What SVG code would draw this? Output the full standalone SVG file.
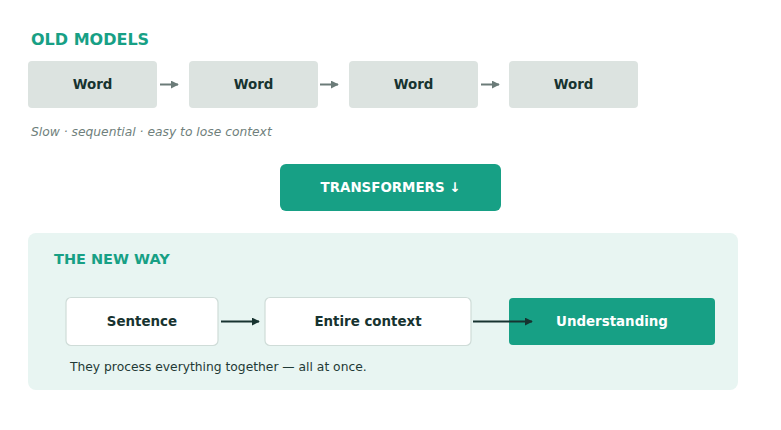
<svg xmlns="http://www.w3.org/2000/svg" width="781" height="430" viewBox="0 0 781 430">
<style>
text{font-family:"DejaVu Sans","Noto Sans",sans-serif}
.h{font-weight:bold;fill:#17a085}
.w{fill:#dce3e0}
.wt{font-weight:bold;font-size:13.4px;fill:#173330;text-anchor:middle;dominant-baseline:central}
.wb{fill:#ffffff;stroke:#cfdcd8;stroke-width:1.2}
.tb{fill:#17a085}
.tt{font-weight:bold;font-size:13.4px;fill:#ffffff;text-anchor:middle;dominant-baseline:central}
.ag{stroke:#6b7b78;stroke-width:2;fill:none}
.ad{stroke:#173330;stroke-width:2;fill:none}
</style>
<defs>
<marker id="mg" viewBox="0 0 10 10" refX="9" refY="5" markerWidth="4" markerHeight="4" orient="auto"><path d="M0,0 L10,5 L0,10 z" fill="#6b7b78"/></marker>
<marker id="md" viewBox="0 0 10 10" refX="9" refY="5" markerWidth="4" markerHeight="4" orient="auto"><path d="M0,0 L10,5 L0,10 z" fill="#173330"/></marker>
</defs>
<rect width="781" height="430" fill="#ffffff"/>
<text class="h" x="31" y="45" font-size="16">OLD MODELS</text>
<g id="word1"><rect class="w" x="28" y="61" width="129" height="47" rx="4"/><text class="wt" x="92.5" y="84.5">Word</text></g>
<g id="word2"><rect class="w" x="189" y="61" width="129" height="47" rx="4"/><text class="wt" x="253.5" y="84.5">Word</text></g>
<g id="word3"><rect class="w" x="349" y="61" width="129" height="47" rx="4"/><text class="wt" x="413.5" y="84.5">Word</text></g>
<g id="word4"><rect class="w" x="509" y="61" width="129" height="47" rx="4"/><text class="wt" x="573.5" y="84.5">Word</text></g>
<text x="31" y="136" font-size="12.3" font-style="italic" fill="#6f7f7c">Slow · sequential · easy to lose context</text>
<g id="transformers"><rect class="tb" x="280" y="164" width="221" height="47" rx="6"/><text class="tt" x="390.5" y="187.5">TRANSFORMERS ↓</text></g>
<g id="panel"><rect x="28" y="233" width="710" height="157" rx="8" fill="#e8f5f2"/>
<text class="h" x="54" y="264" font-size="14.5">THE NEW WAY</text></g>
<g id="sentence"><rect class="wb" x="66" y="297.5" width="152" height="48" rx="5"/><text class="wt" x="142" y="321.5">Sentence</text></g>
<g id="entire"><rect class="wb" x="265" y="297.5" width="206" height="48" rx="5"/><text class="wt" x="368" y="321.5">Entire context</text></g>
<g id="understanding"><rect class="tb" x="509" y="298" width="206" height="47" rx="4"/><text class="tt" x="612" y="321.5">Understanding</text></g>
<text x="70" y="370.5" font-size="12.3" fill="#1f3a36">They process everything together — all at once.</text>
<g id="connectors">
<line class="ag" x1="160" y1="84.5" x2="178" y2="84.5" marker-end="url(#mg)"/>
<line class="ag" x1="320" y1="84.5" x2="338" y2="84.5" marker-end="url(#mg)"/>
<line class="ag" x1="481" y1="84.5" x2="499" y2="84.5" marker-end="url(#mg)"/>
<line class="ad" x1="221" y1="321.5" x2="259" y2="321.5" marker-end="url(#md)"/>
<line class="ad" x1="473" y1="321.5" x2="532" y2="321.5" marker-end="url(#md)"/>
</g>
</svg>
